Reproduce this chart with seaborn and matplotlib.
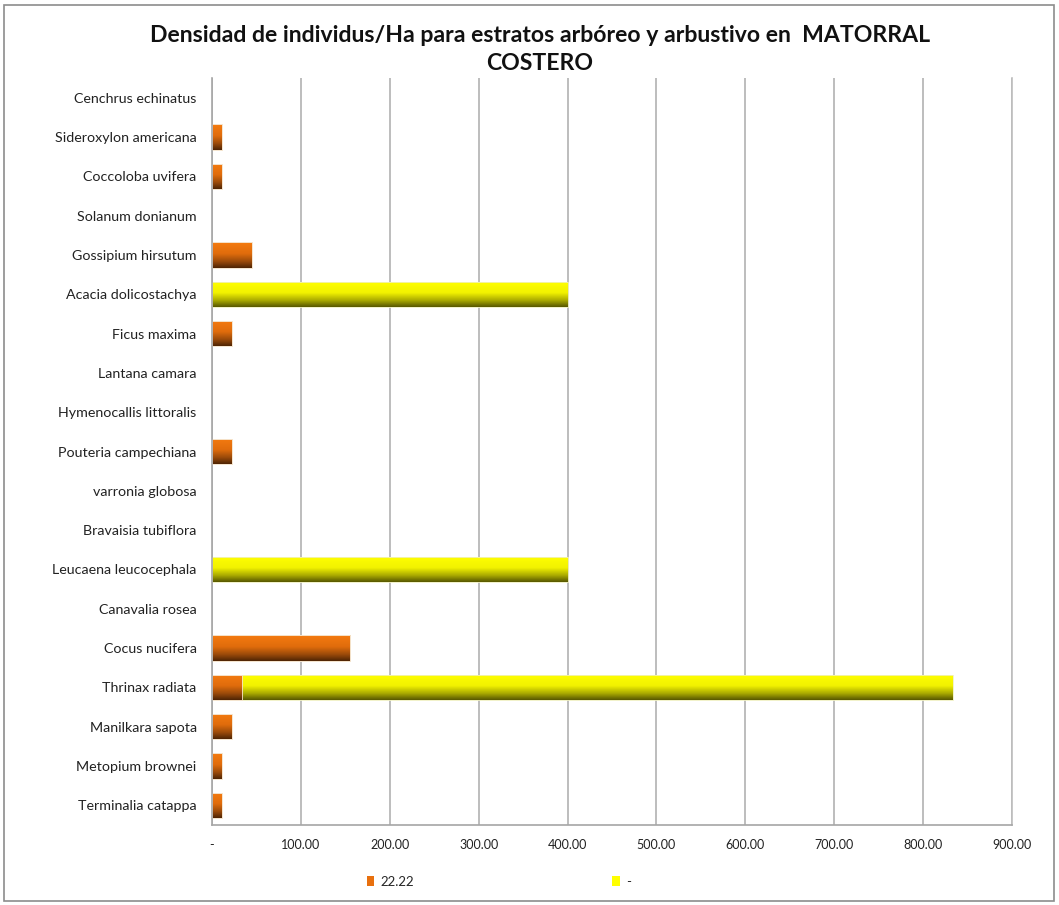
import numpy as np
import pandas as pd
import matplotlib
matplotlib.use("Agg")
import matplotlib.pyplot as plt
import seaborn as sns
from matplotlib.colors import LinearSegmentedColormap
from matplotlib.patches import Rectangle, Patch

species = [
    "Cenchrus echinatus", "Sideroxylon americana", "Coccoloba uvifera",
    "Solanum donianum", "Gossipium hirsutum", "Acacia dolicostachya",
    "Ficus maxima", "Lantana camara", "Hymenocallis littoralis",
    "Pouteria campechiana", "varronia globosa", "Bravaisia tubiflora",
    "Leucaena leucocephala", "Canavalia rosea", "Cocus nucifera",
    "Thrinax radiata", "Manilkara sapota", "Metopium brownei",
    "Terminalia catappa",
]
serie_naranja = [0, 11.11, 11.11, 0, 44.44, 0, 22.22, 0, 0, 22.22, 0, 0,
                 0, 0, 155.56, 33.33, 22.22, 11.11, 11.11]
serie_amarilla = [0, 0, 0, 0, 0, 400, 0, 0, 0, 0, 0, 0,
                  400, 0, 0, 800, 0, 0, 0]
series_names = ["22.22", "-"]
xticks = [0, 100, 200, 300, 400, 500, 600, 700, 800, 900]
xticklabels = ["-", "100.00", "200.00", "300.00", "400.00", "500.00",
               "600.00", "700.00", "800.00", "900.00"]
title_line1 = "Densidad de individus/Ha para estratos arbóreo y arbustivo en  MATORRAL"
title_line2 = "COSTERO"

df = pd.DataFrame({
    "species": species,
    "naranja": serie_naranja,
    "total": np.array(serie_naranja) + np.array(serie_amarilla),
})

sns.set_theme(style="white")
plt.rcParams["font.family"] = ["Lato", "DejaVu Sans"]

fig = plt.figure(figsize=(10.59, 9.05), dpi=100)
ax = fig.add_axes([212 / 1059, 1 - 825 / 905, 800 / 1059, (825 - 78) / 905])

orange_top = "#F47A0E"
yellow_top = "#FFFF00"

sns.barplot(data=df, y="species", x="total", orient="h", color=yellow_top,
            width=0.64, ax=ax, saturation=1, linewidth=0)
n_yellow = len(ax.patches)
sns.barplot(data=df, y="species", x="naranja", orient="h", color=orange_top,
            width=0.64, ax=ax, saturation=1, linewidth=0)

cm_y = LinearSegmentedColormap.from_list(
    "y", [(0, "#FFFF00"), (0.45, "#F2F200"), (0.75, "#A8A800"), (1, "#565600")])
cm_o = LinearSegmentedColormap.from_list(
    "o", [(0, "#F57B10"), (0.45, "#E06C0C"), (0.75, "#9A4A0A"), (1, "#4E2404")])
grad = np.linspace(0, 1, 256).reshape(-1, 1)

for i, p in enumerate(list(ax.patches)):
    w = p.get_width()
    if w <= 0:
        continue
    x0, y0 = p.get_x(), p.get_y()
    h = p.get_height()
    cmap = cm_y if i < n_yellow else cm_o
    im = ax.imshow(grad, cmap=cmap, aspect="auto",
                   extent=(x0, x0 + w, y0 + h, y0),
                   zorder=p.get_zorder() + (0.1 if i < n_yellow else 0.2),
                   interpolation="bilinear")
    im.set_clip_path(p)
    p.set_facecolor("none")
    p.set_edgecolor("#F6E3D0" if i >= n_yellow else "#F0F0C0")
    p.set_linewidth(0.6)
    p.set_zorder(p.get_zorder() + 0.3)

ax.set_xlim(0, 900)
ax.set_ylim(18.5, -0.5)
ax.set_xticks(xticks)
ax.set_xticklabels(xticklabels, fontsize=9, color="#222222")
ax.tick_params(axis="x", length=0, pad=10)
ax.tick_params(axis="y", length=0, pad=11, labelsize=10.3, labelcolor="#222222")
ax.set_xlabel("")
ax.set_ylabel("")
ax.grid(axis="x", color="#BDBDBD", linewidth=1.4)
ax.grid(axis="y", visible=False)
ax.set_axisbelow(True)
for side in ["left", "bottom", "right"]:
    ax.spines[side].set_color("#A6A6A6")
    ax.spines[side].set_linewidth(1.2)
ax.spines["right"].set_color("#BDBDBD")
ax.spines["top"].set_visible(False)

fig.text(540 / 1059, 1 - 35 / 905, title_line1,
         ha="center", va="center", fontsize=16.6, fontweight="bold", color="#111111")
fig.text(540 / 1059, 1 - 63 / 905, title_line2,
         ha="center", va="center", fontsize=16.6, fontweight="bold", color="#111111")

handles = [Patch(facecolor="#E8700E", edgecolor="none"),
           Patch(facecolor="#FFFF00", edgecolor="none")]
fig.legend(handles, series_names, loc="center left",
           bbox_to_anchor=(355 / 1059, 1 - 882 / 905), ncol=2, frameon=False,
           handlelength=0.55, handleheight=0.8, handletextpad=0.5,
           columnspacing=15.0, fontsize=9.5)

fig.add_artist(Rectangle((4 / 1059, 4 / 905), 1 - 9 / 1059, 1 - 9 / 905,
                         transform=fig.transFigure, fill=False,
                         edgecolor="#8C8C8C", linewidth=1.2))

fig.savefig("out.png", dpi=100)
